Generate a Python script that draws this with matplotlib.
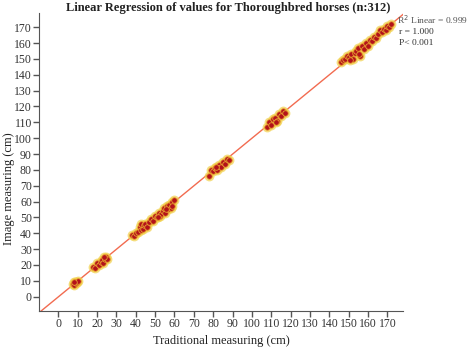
import numpy as np
import matplotlib.pyplot as plt

# values (cm)
traditional = [7.5, 8, 8.5, 9, 9.5, 10, 8,
               18, 19, 20, 21, 22, 22.5, 23, 24, 24.5, 25, 23.5,
               38, 39, 40, 41, 42, 42.5, 43, 44, 44.5, 45, 46, 47, 48, 49, 50, 51,
               52, 52.5, 53, 54, 54.5, 55, 56, 56.5, 57, 58, 58.5, 59, 60, 51.5, 55.5,
               78, 79, 80, 81, 82, 83, 84, 85, 86, 87, 88, 81.5,
               108, 109, 110, 111, 112, 113, 114, 115, 116, 117, 112.5,
               146, 147, 148, 149, 150, 151, 152, 153, 154, 155, 156, 157, 158,
               159, 160, 161, 162, 163, 164, 165, 166, 167, 168, 169, 170, 171, 172, 155.5, 150.5]
image = [8, 7.5, 9, 8.5, 9.5, 10, 9,
         19, 18, 21, 20, 22, 23, 21, 24, 25, 24, 25,
         39, 38, 40, 41, 44, 42, 46, 43, 45, 46, 44, 47, 49, 48, 51, 50,
         53, 51, 52, 54, 56, 53, 57, 55, 58, 56, 60, 57, 61, 50, 55,
         76, 80, 79, 81, 80, 83, 82, 85, 84, 87, 86, 82,
         107, 110, 108, 112, 113, 111, 115, 114, 117, 116, 110,
         148, 149, 150, 152, 151, 153, 150, 154, 155, 157, 152, 158, 156,
         160, 158, 162, 161, 164, 163, 166, 168, 167, 169, 168, 171, 170, 172, 153, 149]

plt.rcParams['font.family'] = ['Liberation Serif', 'DejaVu Serif']

fig = plt.figure(figsize=(4.68, 3.49), dpi=100)
ax = fig.add_axes([0.083, 0.109, 0.778, 0.854])

# regression line
slope, intercept = np.polyfit(traditional, image, 1)
xs = np.array([-10, 178])
ax.plot(xs, slope * xs + intercept, color='#f26b50', lw=1, zorder=1)

# points: yellow halo behind dark red dots
ax.scatter(traditional, image, s=50, color='#f2d04a', alpha=0.7, lw=0, zorder=2)
ax.scatter(traditional, image, s=16, color='#b3121a', edgecolor='#e8a030', lw=0.6, zorder=3)

ax.set_xlim(-10, 178)
ax.set_ylim(-9, 179)
ax.set_xticks(range(0, 171, 10))
ax.set_yticks(range(0, 171, 10))
for s in ['top', 'right']:
    ax.spines[s].set_visible(False)
for s in ['left', 'bottom']:
    ax.spines[s].set_color('#555555')
ax.tick_params(direction='out', length=4, width=1, color='#555555',
               labelsize=8.5, labelcolor='#333333', pad=1)

fig.text(0.474, 0.023, 'Traditional measuring (cm)', fontsize=9, color='#222222',
         ha='center', va='center')
fig.text(0.019, 0.46, 'Image measuring (cm)', fontsize=9, color='#222222',
         ha='center', va='center', rotation=90)
fig.text(0.487, 0.977, 'Linear Regression of values for Thoroughbred horses (n:312)',
         fontsize=9, fontweight='bold', color='#222222', ha='center', va='center')

fig.text(0.849, 0.943, 'R$^2$ Linear = 0.999', fontsize=6.8, color='#555555', va='center')
fig.text(0.853, 0.908, 'r = 1.000', fontsize=6.8, color='#333333', va='center')
fig.text(0.853, 0.878, 'P< 0.001', fontsize=6.8, color='#333333', va='center')

fig.savefig('out.png', dpi=100)
